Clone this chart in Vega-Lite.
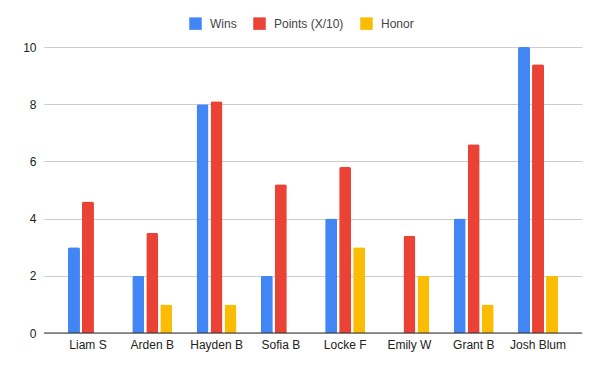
{
  "$schema": "https://vega.github.io/schema/vega-lite/v6.json",
  "width": 538,
  "height": 286,
  "autosize": {"type": "none"},
  "padding": {"left": 44, "top": 47, "right": 18, "bottom": 37},
  "background": "white",
  "config": {
    "view": {"stroke": null},
    "font": "Liberation Sans",
    "axis": {"labelFont": "Liberation Sans", "labelFontSize": 12, "labelColor": "#222"},
    "legend": {"labelFont": "Liberation Sans", "labelFontSize": 12, "labelColor": "#444"}
  },
  "data": {
    "values": [
      {"name": "Liam S", "series": "Wins", "value": 3},
      {"name": "Liam S", "series": "Points (X/10)", "value": 4.6},
      {"name": "Liam S", "series": "Honor", "value": 0},
      {"name": "Arden B", "series": "Wins", "value": 2},
      {"name": "Arden B", "series": "Points (X/10)", "value": 3.5},
      {"name": "Arden B", "series": "Honor", "value": 1},
      {"name": "Hayden B", "series": "Wins", "value": 8},
      {"name": "Hayden B", "series": "Points (X/10)", "value": 8.1},
      {"name": "Hayden B", "series": "Honor", "value": 1},
      {"name": "Sofia B", "series": "Wins", "value": 2},
      {"name": "Sofia B", "series": "Points (X/10)", "value": 5.2},
      {"name": "Sofia B", "series": "Honor", "value": 0},
      {"name": "Locke F", "series": "Wins", "value": 4},
      {"name": "Locke F", "series": "Points (X/10)", "value": 5.8},
      {"name": "Locke F", "series": "Honor", "value": 3},
      {"name": "Emily W", "series": "Wins", "value": 0},
      {"name": "Emily W", "series": "Points (X/10)", "value": 3.4},
      {"name": "Emily W", "series": "Honor", "value": 2},
      {"name": "Grant B", "series": "Wins", "value": 4},
      {"name": "Grant B", "series": "Points (X/10)", "value": 6.6},
      {"name": "Grant B", "series": "Honor", "value": 1},
      {"name": "Josh Blum", "series": "Wins", "value": 10},
      {"name": "Josh Blum", "series": "Points (X/10)", "value": 9.4},
      {"name": "Josh Blum", "series": "Honor", "value": 2}
    ]
  },
  "layer": [
    {
      "mark": {"type": "bar", "cornerRadiusEnd": 2},
      "encoding": {
        "x": {
          "field": "name",
          "type": "nominal",
          "sort": null,
          "scale": {"paddingInner": 0.378, "paddingOuter": 0.373},
          "axis": {"title": null, "labelAngle": 0, "domain": false, "ticks": false, "labelPadding": 6}
        },
        "xOffset": {
          "field": "series",
          "type": "nominal",
          "sort": ["Wins", "Points (X/10)", "Honor"],
          "scale": {"paddingInner": 0.143, "paddingOuter": 0}
        },
        "y": {
          "field": "value",
          "type": "quantitative",
          "scale": {"domain": [0, 10]},
          "axis": {"title": null, "values": [0, 2, 4, 6, 8, 10], "domain": false, "ticks": false, "gridColor": "#cccccc", "labelPadding": 8}
        },
        "color": {
          "field": "series",
          "type": "nominal",
          "sort": ["Wins", "Points (X/10)", "Honor"],
          "scale": {"domain": ["Wins", "Points (X/10)", "Honor"], "range": ["#4285F4", "#EA4335", "#FBBC04"]},
          "legend": {
            "title": null,
            "orient": "none",
            "direction": "horizontal",
            "legendX": 145,
            "legendY": -30,
            "symbolType": "square",
            "symbolSize": 156,
            "symbolStrokeWidth": 0,
            "labelOffset": 8,
            "columnPadding": 16
          }
        }
      }
    },
    {
      "data": {"values": [{"v": 0}]},
      "mark": {"type": "rule", "color": "#333333", "strokeWidth": 1},
      "encoding": {"y": {"field": "v", "type": "quantitative"}}
    }
  ]
}
